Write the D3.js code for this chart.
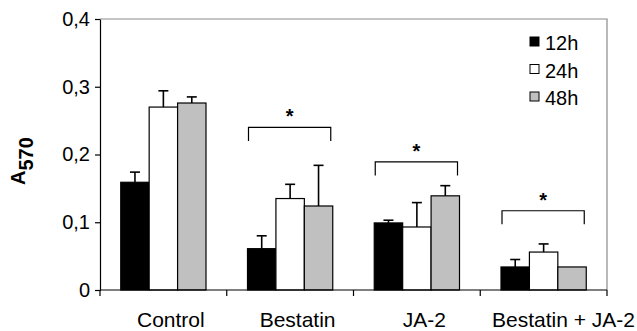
<!DOCTYPE html>
<html>
<head>
<meta charset="utf-8">
<script src="https://cdn.jsdelivr.net/npm/d3@7"></script>
<style>
  html, body { margin: 0; padding: 0; background: #fff; }
  svg { display: block; font-family: "Liberation Sans", Arial, Helvetica, sans-serif; }
</style>
</head>
<body>
<svg id="chart" width="637" height="331"></svg>
<script>
const categories = ["Control", "Bestatin", "JA-2", "Bestatin + JA-2"];
const series = ["12h", "24h", "48h"];
const means12 = [0.159, 0.061, 0.099, 0.034];
const means24 = [0.270, 0.135, 0.093, 0.056];
const means48 = [0.276, 0.124, 0.139, 0.034];
const err12 = [0.015, 0.019, 0.004, 0.011];
const err24 = [0.024, 0.021, 0.036, 0.012];
const err48 = [0.009, 0.060, 0.015, 0.000];
const yTicks = [0, 0.1, 0.2, 0.3, 0.4];
const yTickLabels = ["0", "0,1", "0,2", "0,3", "0,4"];
const sigCategories = ["Bestatin", "JA-2", "Bestatin + JA-2"];
const sigLevels = [0.240, 0.189, 0.117];
const seriesColors = ["#000000", "#ffffff", "#c0c0c0"];

const W = 637, H = 331;
const m = { left: 100, right: 30, top: 19, bottom: 41 };
const svg = d3.select("#chart");

const x = d3.scaleBand().domain(categories).range([m.left, W - m.right]).padding(0);
const x1 = d3.scaleBand().domain(series).range([0, x.bandwidth()]).paddingInner(0).paddingOuter(0.73);
const y = d3.scaleLinear().domain([0, 0.4]).range([H - m.bottom, m.top]);

const means = [means12, means24, means48];
const errs = [err12, err24, err48];
const data = [];
categories.forEach((c, i) => series.forEach((s, j) => data.push({ c, s, j, v: means[j][i], e: errs[j][i] })));

// plot frame (top & right, gray)
svg.append("path")
  .attr("d", `M${m.left},${y(0.4)}H${W - m.right}V${y(0)}`)
  .attr("fill", "none").attr("stroke", "#8a8a8a").attr("stroke-width", 1.2);

// bars
svg.append("g").selectAll("rect").data(data).join("rect")
  .attr("x", d => x(d.c) + x1(d.s))
  .attr("y", d => y(d.v))
  .attr("width", x1.bandwidth())
  .attr("height", d => y(0) - y(d.v))
  .attr("fill", d => seriesColors[d.j])
  .attr("stroke", "#000").attr("stroke-width", 1.2);

// error bars (upper only)
const eg = svg.append("g").attr("stroke", "#000").attr("stroke-width", 1.6);
data.filter(d => d.e > 0).forEach(d => {
  const cx = x(d.c) + x1(d.s) + x1.bandwidth() / 2;
  eg.append("line").attr("x1", cx).attr("x2", cx).attr("y1", y(d.v)).attr("y2", y(d.v + d.e));
  eg.append("line").attr("x1", cx - 5).attr("x2", cx + 5).attr("y1", y(d.v + d.e)).attr("y2", y(d.v + d.e));
});

// y axis
const yAxis = d3.axisLeft(y).tickValues(yTicks).tickFormat((d, i) => yTickLabels[i]).tickSize(5).tickSizeOuter(0).tickPadding(5);
const gy = svg.append("g").attr("transform", `translate(${m.left},0)`).call(yAxis);
gy.select(".domain").attr("stroke", "#000").attr("stroke-width", 1.2);
gy.selectAll(".tick line").attr("stroke", "#000").attr("stroke-width", 1.2);
gy.selectAll(".tick text").attr("font-size", 20).attr("fill", "#000")
  .attr("font-family", "'Liberation Sans', Arial, sans-serif");

// x axis line + boundary ticks
svg.append("line").attr("x1", m.left).attr("x2", W - m.right).attr("y1", y(0)).attr("y2", y(0))
  .attr("stroke", "#000").attr("stroke-width", 1.2);
const bounds = categories.map(c => x(c)).concat([x.range()[1]]);
svg.append("g").selectAll("line").data(bounds).join("line")
  .attr("x1", d => d).attr("x2", d => d).attr("y1", y(0)).attr("y2", y(0) + 6)
  .attr("stroke", "#000").attr("stroke-width", 1.2);

// x labels
const xl = svg.append("g").selectAll("text").data(categories).join("text")
  .attr("x", d => x(d) + x.bandwidth() / 2 + 7.5)
  .attr("y", H - 4)
  .attr("text-anchor", "middle")
  .attr("font-size", 21)
  .attr("fill", "#000")
  .text(d => d);
// keep the last (wide) label flush with the chart's right edge, as in the source
xl.filter((d, i) => i === categories.length - 1)
  .attr("text-anchor", "end").attr("x", W - 2);

// y title A570
const yt = svg.append("text")
  .attr("transform", `translate(25,185) rotate(-90)`)
  .attr("font-size", 20).attr("font-weight", "bold").attr("fill", "#000");
yt.append("tspan").text("A");
yt.append("tspan").attr("dy", 8).text("570");

// significance brackets
const leg = 0.02;
sigCategories.forEach((c, i) => {
  const gx0 = x(c) + x1(series[0]) + 1;
  const gx1 = x(c) + x1(series[2]) + x1.bandwidth() - 2;
  const yl = y(sigLevels[i]);
  svg.append("path")
    .attr("d", `M${gx0},${y(sigLevels[i] - leg)}V${yl}H${gx1}V${y(sigLevels[i] - leg)}`)
    .attr("fill", "none").attr("stroke", "#000").attr("stroke-width", 1.2);
  svg.append("text")
    .attr("x", (gx0 + gx1) / 2).attr("y", yl - 4)
    .attr("text-anchor", "middle").attr("font-size", 20).attr("font-weight", "bold")
    .attr("fill", "#000").text("*");
});

// legend
const lg = svg.append("g").attr("transform", "translate(530,0)");
series.forEach((s, j) => {
  const yy = 50 + j * 27.5;
  lg.append("rect").attr("x", 0).attr("y", yy - 13).attr("width", 9).attr("height", 9)
    .attr("fill", seriesColors[j]).attr("stroke", "#000").attr("stroke-width", 1);
  lg.append("text").attr("x", 15).attr("y", yy).attr("font-size", 20).attr("fill", "#000").text(s);
});
</script>
</body>
</html>
